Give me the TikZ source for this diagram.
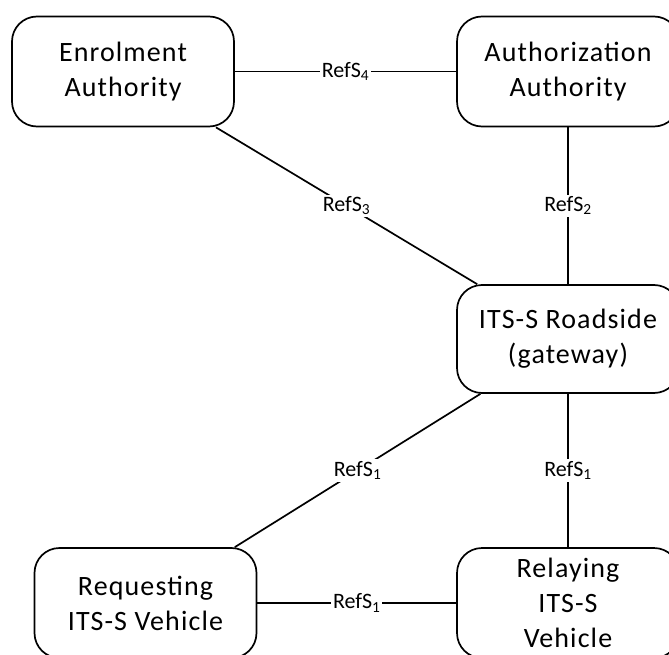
\documentclass[tikz,border=0pt]{standalone}
\usepackage{fontspec}
\setmainfont{Carlito}
\newfontfamily\boxfont[LetterSpace=4]{Carlito}
\usepackage{tikz}

\begin{document}
\begin{tikzpicture}[
      x=10pt, y=10pt,
      box/.style={draw, rectangle, rounded corners=25pt, line width=1.7pt, align=center, inner sep=2pt,
        minimum width=222pt, minimum height=110pt, font=\boxfont\fontsize{28}{35}\selectfont},
      lbl/.style={fill=white, inner sep=2pt, font=\fontsize{22}{24}\selectfont},
      link/.style={line width=1.7pt}
    ]
    \clip (0,0) rectangle (66.9,-65.5);

    \node[box] (ea) at (12.3,-7.15) {Enrolment\\Authority};
    \node[box] (aa) at (56.8,-7.15) {Authorization\\Authority};
    \node[box, minimum height=108pt] (rs) at (56.8,-33.9) {ITS-S Roadside\\(gateway)};
    \node[box] (rq) at (14.55,-60.3) {Requesting\\ITS-S Vehicle};
    \node[box] (rl) at (56.8,-60.3) {Relaying\\ITS-S\\Vehicle};

    \path (ea) edge [link] node [lbl] {RefS\textsubscript{4}} (aa);
    \path (ea) edge [link] node [lbl] {RefS\textsubscript{3}} (rs);
    \path (aa) edge [link] node [lbl] {RefS\textsubscript{2}} (rs);
    \path (rs) edge [link] node [lbl] {RefS\textsubscript{1}} (rq);
    \path (rs) edge [link] node [lbl] {RefS\textsubscript{1}} (rl);
    \path (rq) edge [link] node [lbl] {RefS\textsubscript{1}} (rl);
  \end{tikzpicture}
\end{document}
